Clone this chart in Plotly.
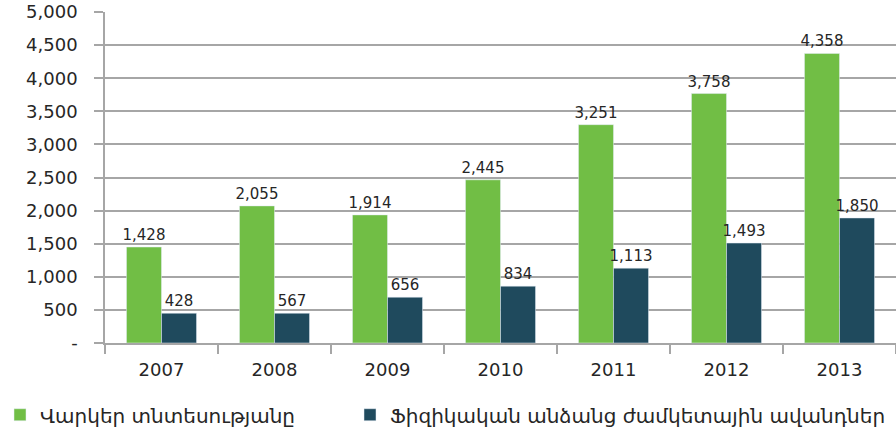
import plotly.graph_objects as go

years = ["2007", "2008", "2009", "2010", "2011", "2012", "2013"]
loans_labels = [1428, 2055, 1914, 2445, 3251, 3758, 4358]
loans_bars = [1450, 2071, 1935, 2465, 3298, 3768, 4374]
deposits_labels = [428, 567, 656, 834, 1113, 1493, 1850]
deposits_bars = [450, 450, 692, 859, 1131, 1510, 1889]
series_names = ["Վարկեր տնտեսությանը", "Ֆիզիկական անձանց ժամկետային ավանդներ"]
y_tickvals = [0, 500, 1000, 1500, 2000, 2500, 3000, 3500, 4000, 4500, 5000]
y_ticktext = ["-", "500", "1,000", "1,500", "2,000", "2,500", "3,000", "3,500", "4,000", "4,500", "5,000"]

green = "#71BE45"
navy = "#1F4A5D"
grid = "#A6A6A6"
txt = "#262626"
font_family = "DejaVu Sans"

fig = go.Figure()
fig.add_trace(go.Bar(
    x=years, y=loans_bars, name=series_names[0], marker_color=green, legend="legend",
    text=[f"{v:,}" for v in loans_labels], textposition="outside", constraintext="none",
    textfont=dict(size=15, color=txt, family=font_family), cliponaxis=False,
))
fig.add_trace(go.Bar(
    x=years, y=deposits_bars, name=series_names[1], marker_color=navy, legend="legend2",
    text=[f"{v:,}" for v in deposits_labels], textposition="outside", constraintext="none",
    textfont=dict(size=15, color=txt, family=font_family), cliponaxis=False,
))

legend_common = dict(
    orientation="h", xref="container", yref="container", xanchor="left",
    y=0.083, yanchor="top",
    font=dict(size=20, color=txt, family=font_family),
    itemwidth=30, itemclick=False, itemdoubleclick=False,
    bgcolor="rgba(0,0,0,0)",
)

fig.update_layout(
    width=896, height=431,
    margin=dict(l=105, r=0, t=12, b=88),
    paper_bgcolor="white", plot_bgcolor="white",
    barmode="group", bargap=0.38, bargroupgap=0,
    font=dict(family=font_family, color=txt, size=16),
    showlegend=True,
    legend=dict(x=-3 / 896, **legend_common),
    legend2=dict(x=350 / 896, **legend_common),
)
fig.update_xaxes(
    type="category", showgrid=False, showline=True, linecolor=grid, linewidth=1.5,
    ticks="outside", tickson="boundaries", ticklen=9, tickcolor=grid, tickwidth=1.5,
    tickfont=dict(size=18, color=txt, family=font_family), ticklabelstandoff=10,
    automargin=False,
)
fig.update_yaxes(
    range=[0, 5000], tickvals=y_tickvals, ticktext=y_ticktext,
    showgrid=True, gridcolor=grid, gridwidth=1.5,
    showline=True, linecolor=grid, linewidth=1.5,
    ticks="outside", ticklen=9, tickcolor=grid, tickwidth=1.5,
    tickfont=dict(size=18, color=txt, family=font_family), ticklabelstandoff=13,
    zeroline=False, automargin=False,
)

fig.write_html("out.html", config={"displayModeBar": False},
               post_script="document.body.style.margin='0';")
